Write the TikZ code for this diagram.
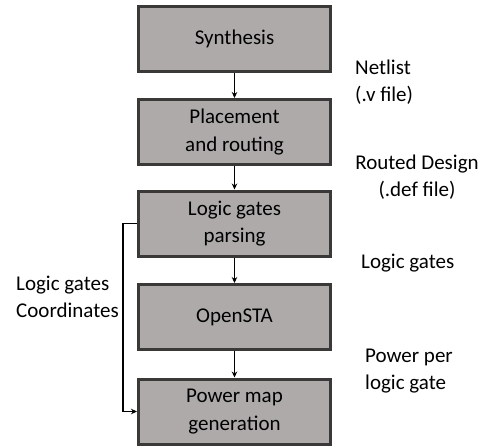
\documentclass[tikz,border=0pt]{standalone}
\usepackage{fontspec}
\setmainfont{Carlito}
\usetikzlibrary{arrows.meta}

\begin{document}
\begin{tikzpicture}
[x=1pt,y=-1pt
,box/.style={draw=boxline,fill=boxfill,line width=3pt,minimum width=192pt,minimum height=65pt,align=center,inner sep=0pt}
,lbl/.style={inner sep=0pt,align=left,anchor=west}
,be/.style={draw=black,line width=1.7pt,arrows={-Stealth[length=6pt,width=5.5pt]}}
,font=\fontsize{21}{27.5}\selectfont]
\definecolor{boxfill}{HTML}{AEAAAA}
\definecolor{boxline}{HTML}{3B3838}
\useasboundingbox (0,0) rectangle (492,447);
\node[box] (syn) at (234.5,39) {Synthesis};
\node[box] (pr) at (234.5,132) {Placement\\and routing};
\node[box] (lgp) at (234.5,223.5) {Logic gates\\parsing};
\node[box] (sta) at (234.5,317) {OpenSTA};
\node[box] (pmg) at (234.5,411.5) {Power map\\generation};
\node[lbl] (net) at (355,82) {Netlist\\(.v file)};
\node[lbl,align=center,anchor=center] (rd) at (417,177) {Routed Design\\(.def file)};
\node[lbl] (lg) at (361,263) {Logic gates};
\node[lbl] (ppg) at (365,371) {Power per\\logic gate};
\node[lbl] (lgc) at (16,297) {Logic gates\\Coordinates};
\coordinate (fb) at (123,223.5);
\draw[be] (syn) -- (pr);
\draw[be] (pr) -- (lgp);
\draw[be] (lgp) -- (sta);
\draw[be] (sta) -- (pmg);
\draw[be] (lgp.west) -- (fb) |- (pmg.west);
\end{tikzpicture}
\end{document}
